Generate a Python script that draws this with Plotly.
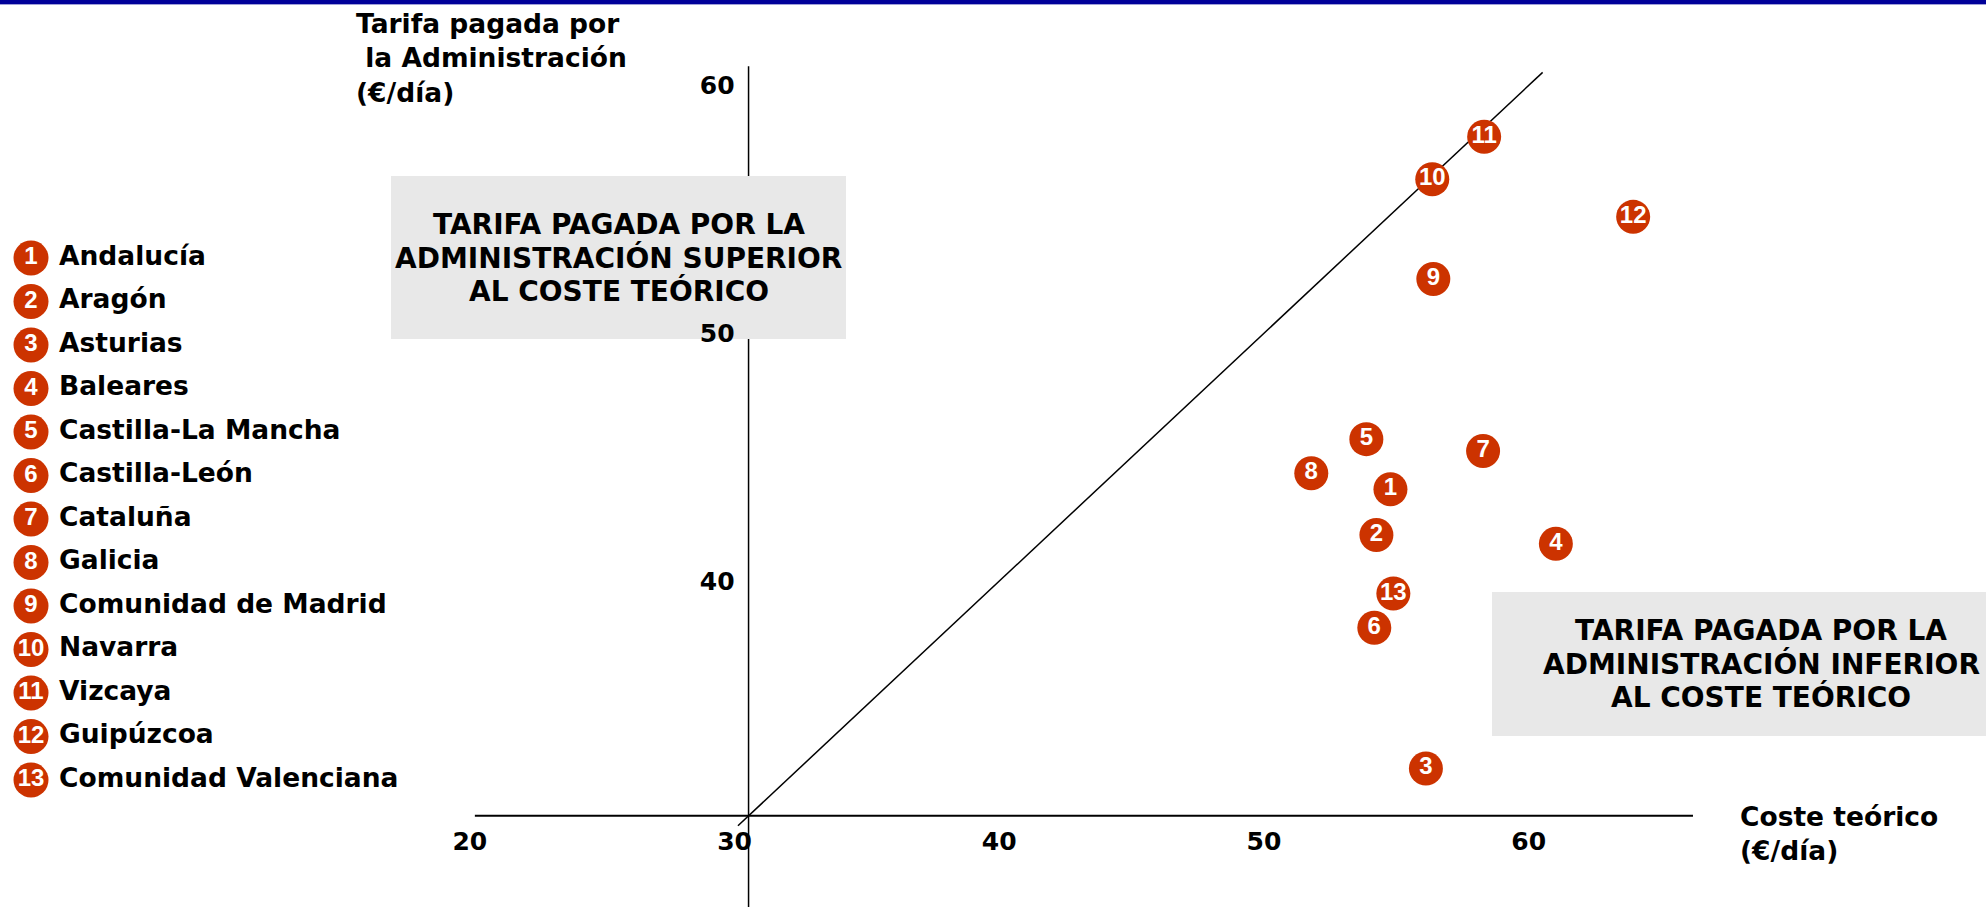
import plotly.graph_objects as go

W, H = 1986, 907

# --- data --------------------------------------------------------------------
REGIONES = ["Andalucía", "Aragón", "Asturias", "Baleares", "Castilla-La Mancha",
            "Castilla-León", "Cataluña", "Galicia", "Comunidad de Madrid",
            "Navarra", "Vizcaya", "Guipúzcoa", "Comunidad Valenciana"]
COSTE_TEORICO = [54.25, 53.72, 55.59, 60.50, 53.34, 53.64, 57.75,
                 51.26, 55.87, 55.83, 57.79, 63.42, 54.36]
TARIFA_PAGADA = [43.18, 41.33, 31.91, 40.98, 45.20, 37.59, 44.72,
                 43.82, 51.66, 55.69, 57.40, 54.17, 38.97]
X_TICKS = [20, 30, 40, 50, 60]
Y_TICKS = [40, 50, 60]
DIAGONAL = [29.6, 60]          # tarifa = coste
ORIGIN = 30                    # where the two axes cross
X_AXIS_SPAN = [19.66, 65.68]
Y_AXIS_TOP = 60.25

BOX_SUPERIOR = ["TARIFA PAGADA POR LA", "ADMINISTRACIÓN SUPERIOR", "AL COSTE TEÓRICO"]
BOX_INFERIOR = ["TARIFA PAGADA POR LA", "ADMINISTRACIÓN INFERIOR", "AL COSTE TEÓRICO"]

# --- layout constants ---------------------------------------------------------
X_RANGE = [1.72, 76.75]
Y_RANGE = [26.32, 62.92]
RED = "#CC3300"
GREY = "#E8E8E8"
FONT = "DejaVu Sans"
NUM_FONT = "Liberation Sans"

LEG_CIRCLE_X = 31
LEG_TEXT_X = 59
LEG_TOP = 258
LEG_STEP = 43.5


def px_x(px):
    return px / W


def px_y(py):
    return 1 - py / H


def dx(v):
    return (v - X_RANGE[0]) / (X_RANGE[1] - X_RANGE[0])


def dy(v):
    return (v - Y_RANGE[0]) / (Y_RANGE[1] - Y_RANGE[0])


numbers = [str(i + 1) for i in range(len(REGIONES))]
leg_rows = list(range(1, len(REGIONES) + 1))

fig = go.Figure()

# Diagonal y = x
fig.add_trace(go.Scatter(
    x=DIAGONAL, y=DIAGONAL, mode="lines",
    line=dict(color="black", width=1.5),
    hoverinfo="skip", showlegend=False
))

# Regions
fig.add_trace(go.Scatter(
    x=COSTE_TEORICO, y=TARIFA_PAGADA, mode="markers+text",
    text=numbers, textposition="middle center",
    marker=dict(size=34, color=RED, line=dict(width=0)),
    textfont=dict(family=NUM_FONT, size=24, color="white", weight="bold"),
    customdata=REGIONES,
    hovertemplate="%{customdata}<br>Coste: %{x}<br>Tarifa: %{y}<extra></extra>",
    showlegend=False
))

# Custom legend (numbered circles + names) on an overlay axis pair
fig.add_trace(go.Scatter(
    x=[LEG_CIRCLE_X] * len(REGIONES), y=leg_rows, mode="markers+text",
    text=numbers, textposition="middle center",
    marker=dict(size=35, color=RED, line=dict(width=0)),
    textfont=dict(family=NUM_FONT, size=24, color="white", weight="bold"),
    xaxis="x2", yaxis="y2", hoverinfo="skip", showlegend=False
))
fig.add_trace(go.Scatter(
    x=[LEG_TEXT_X] * len(REGIONES), y=leg_rows, mode="text",
    text=REGIONES, textposition="middle right",
    textfont=dict(family=FONT, size=26.5, color="black", weight="bold"),
    xaxis="x2", yaxis="y2", hoverinfo="skip", showlegend=False
))

shapes = [
    # top blue rule
    dict(type="rect", xref="paper", yref="paper", x0=0, x1=1, y0=px_y(4), y1=1,
         fillcolor="#000099", line=dict(width=0), layer="below"),
    dict(type="line", xref="paper", yref="paper", x0=0, x1=1, y0=px_y(4.5), y1=px_y(4.5),
         line=dict(color="#A0A0D8", width=1), layer="below"),
    # axes crossing at (30, 30)
    dict(type="line", xref="paper", yref="paper",
         x0=dx(X_AXIS_SPAN[0]), x1=dx(X_AXIS_SPAN[1]), y0=dy(ORIGIN), y1=dy(ORIGIN),
         line=dict(color="black", width=2), layer="below"),
    dict(type="line", xref="paper", yref="paper",
         x0=dx(ORIGIN), x1=dx(ORIGIN), y0=0, y1=dy(Y_AXIS_TOP),
         line=dict(color="black", width=1.5), layer="below"),
    # grey boxes
    dict(type="rect", xref="paper", yref="paper",
         x0=px_x(391), x1=px_x(846), y0=px_y(339), y1=px_y(176),
         fillcolor=GREY, line=dict(width=0), layer="below"),
    dict(type="rect", xref="paper", yref="paper",
         x0=px_x(1492), x1=1, y0=px_y(736), y1=px_y(592),
         fillcolor=GREY, line=dict(width=0), layer="below"),
]

bold = dict(family=FONT, color="black", weight="bold")

annotations = [
    dict(text="Tarifa pagada por<br>\u00a0la Administración<br>(€/día)",
         x=px_x(354), y=px_y(58), xanchor="left", yanchor="middle", align="left",
         font=dict(size=26.5, **bold)),
    dict(text="Coste teórico<br>(€/día)",
         x=px_x(1738), y=px_y(833), xanchor="left", yanchor="middle", align="left",
         font=dict(size=26.5, **bold)),
]
for line, ypx in zip(BOX_SUPERIOR, [225, 258, 291]):
    annotations.append(dict(text=line, x=px_x(618.5), y=px_y(ypx),
                            xanchor="center", yanchor="middle",
                            font=dict(size=28, **bold)))
for line, ypx in zip(BOX_INFERIOR, [630, 664, 697]):
    annotations.append(dict(text=line, x=px_x(1761), y=px_y(ypx),
                            xanchor="center", yanchor="middle",
                            font=dict(size=28, **bold)))
for a in annotations:
    a.update(xref="paper", yref="paper", showarrow=False)

tick_font = dict(family=FONT, size=25, color="black", weight="bold")

fig.update_layout(
    width=W, height=H,
    margin=dict(l=0, r=0, t=0, b=0),
    paper_bgcolor="white",
    plot_bgcolor="rgba(0,0,0,0)",
    showlegend=False,
    shapes=shapes,
    annotations=annotations,
    xaxis=dict(
        range=X_RANGE, domain=[0, 1], anchor="free", position=dy(ORIGIN),
        tickvals=X_TICKS, ticks="", showgrid=False, zeroline=False, showline=False,
        tickfont=tick_font, ticklabelshift=-14, ticklabelstandoff=8
    ),
    yaxis=dict(
        range=Y_RANGE, domain=[0, 1], anchor="free", position=dx(ORIGIN),
        tickvals=Y_TICKS, ticks="", showgrid=False, zeroline=False, showline=False,
        tickfont=tick_font, ticklabelshift=13, ticklabelstandoff=14
    ),
    xaxis2=dict(range=[0, W], overlaying="x", visible=False),
    yaxis2=dict(
        range=[1 + (H - LEG_TOP) / LEG_STEP, 1 - LEG_TOP / LEG_STEP],
        overlaying="y", visible=False
    ),
)

fig.write_html("out.html", config={"displayModeBar": False},
               post_script="document.body.style.margin = '0';")
